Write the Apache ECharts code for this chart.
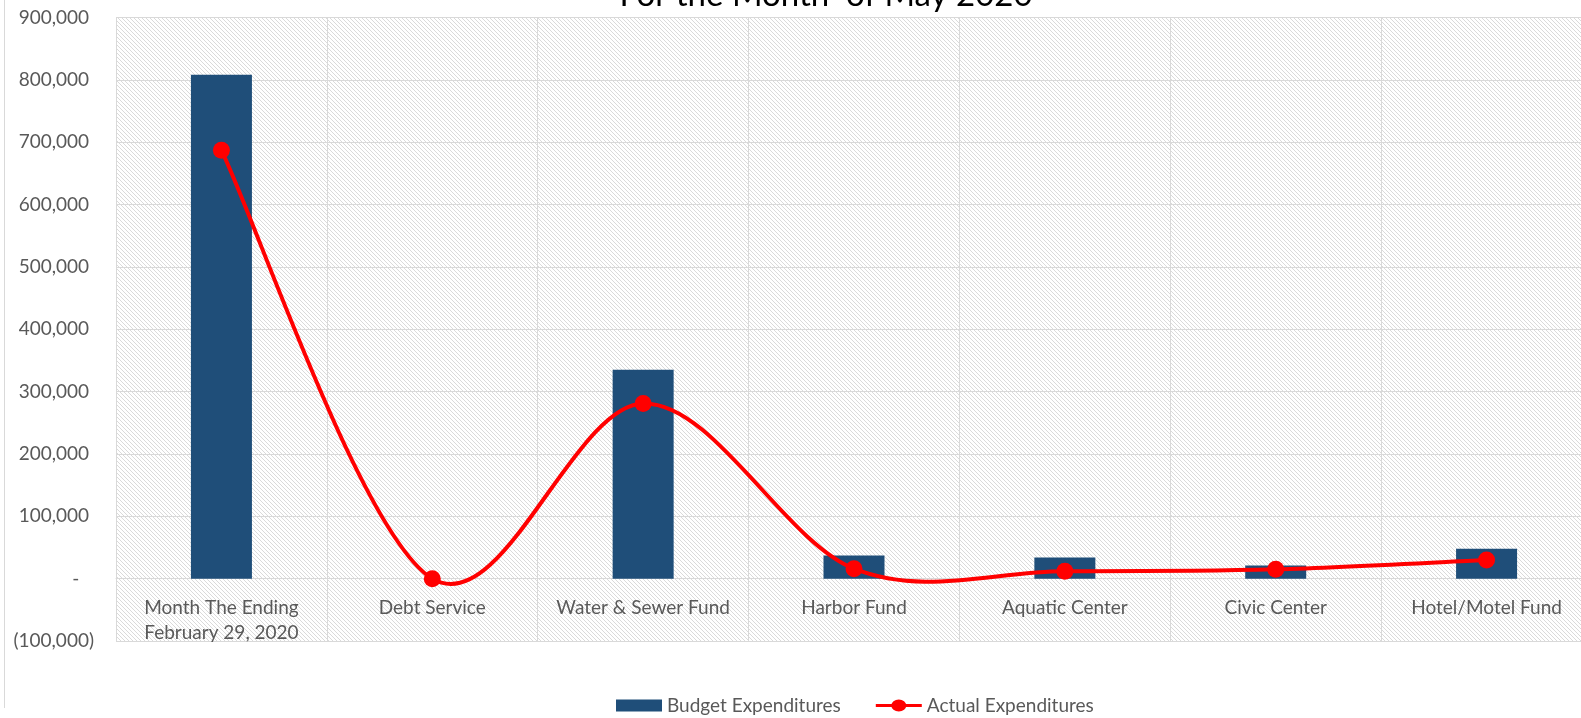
<!DOCTYPE html>
<html>
<head>
<meta charset="utf-8">
<script src="https://cdn.jsdelivr.net/npm/echarts@6/dist/echarts.min.js"></script>
<style>
  html, body { margin: 0; padding: 0; background: #ffffff; }
  #chart { width: 1581px; height: 718px; }
</style>
</head>
<body>
<div id="chart"></div>
<script>
// Fund categories and monthly figures
const categories = [
  'Month The Ending\nFebruary 29, 2020',
  'Debt Service',
  'Water & Sewer Fund',
  'Harbor Fund',
  'Aquatic Center',
  'Civic Center',
  'Hotel/Motel Fund'
];
const budgetExpenditures = [808000, 0, 335000, 37000, 34000, 21000, 48000];
const actualExpenditures = [687000, 0, 281000, 16000, 12000, 15000, 30000];
const titleText = 'For the Month  of May 2020';

const FONT = 'Lato, "Noto Sans", sans-serif';
const LABEL = '#595959';
const RED = '#ff0000';
const PLOT_H = 623.5;
const Y_MIN = -100000, Y_MAX = 900000;

// Light downward-diagonal hatch used as the plot background
function hatchPattern() {
  const c = document.createElement('canvas');
  c.width = 8; c.height = 8;
  const ctx = c.getContext('2d');
  ctx.fillStyle = '#ffffff';
  ctx.fillRect(0, 0, 8, 8);
  ctx.fillStyle = '#dadada';
  for (let y = 0; y < 8; y++) {
    for (let x = 0; x < 8; x++) {
      if (((x - y) % 4 + 4) % 4 === 0) ctx.fillRect(x, y, 1, 1);
    }
  }
  return c;
}

function yLabel(v) {
  if (v === 0) return '-   ';
  const s = Math.abs(v).toLocaleString('en-US');
  return v < 0 ? '(' + s + ')' : s + ' ';
}

// Smoothed curve through the actual values (Catmull-Rom style, 1/6 tangents),
// drawn once from the first data item using the grid's own coordinates.
function renderActualCurve(params, api) {
  if (params.dataIndex !== 0) return null;
  const pts = actualExpenditures.map((v, i) => api.coord([i, v]));
  const n = pts.length;
  const children = [];
  for (let i = 0; i < n - 1; i++) {
    const p0 = pts[Math.max(i - 1, 0)];
    const p1 = pts[i];
    const p2 = pts[i + 1];
    const p3 = pts[Math.min(i + 2, n - 1)];
    children.push({
      type: 'bezierCurve',
      shape: {
        x1: p1[0], y1: p1[1],
        cpx1: p1[0] + (p2[0] - p0[0]) / 6, cpy1: p1[1] + (p2[1] - p0[1]) / 6,
        cpx2: p2[0] - (p3[0] - p1[0]) / 6, cpy2: p2[1] - (p3[1] - p1[1]) / 6,
        x2: p2[0], y2: p2[1]
      },
      style: { stroke: RED, lineWidth: 4, fill: null, lineCap: 'round' }
    });
  }
  return { type: 'group', children: children };
}

// Category axis sits on the zero line, as in an accounting chart
const zeroOffset = -PLOT_H * (0 - Y_MIN) / (Y_MAX - Y_MIN);

// Legend glyph for the actual series: a line with a dot in the middle
const lineDotIcon = 'path://M0,4.5 H46 V7.5 H0 Z M15.5,6 a7.5,6 0 1,1 15,0 a7.5,6 0 1,1 -15,0 Z';

const chart = echarts.init(document.getElementById('chart'));
chart.setOption({
  animation: false,
  textStyle: { fontFamily: FONT },
  grid: {
    left: 116, top: 17.5, width: 1476, height: PLOT_H,
    outerBoundsMode: 'none',
    containLabel: false,
    show: true,
    borderWidth: 0,
    backgroundColor: { image: hatchPattern(), repeat: 'repeat' }
  },
  graphic: [
    {
      type: 'line', silent: true,
      shape: { x1: 4.5, y1: 0, x2: 4.5, y2: 708 },
      style: { stroke: '#d9d9d9', lineWidth: 1 }
    },
    {
      type: 'text', silent: true, x: 826, y: -5,
      style: {
        text: titleText, fill: '#000000', fontFamily: FONT, fontSize: 33,
        align: 'center', verticalAlign: 'middle'
      }
    }
  ],
  legend: {
    left: 611, top: 691,
    itemWidth: 46, itemHeight: 12, itemGap: 35,
    textStyle: { color: LABEL, fontSize: 19, fontFamily: FONT },
    data: [
      { name: 'Budget Expenditures', icon: 'rect' },
      { name: 'Actual Expenditures', icon: lineDotIcon, itemStyle: { color: RED } }
    ]
  },
  xAxis: {
    type: 'category',
    data: categories,
    offset: zeroOffset,
    axisLine: { onZero: false, lineStyle: { color: '#d9d9d9', width: 1 } },
    axisTick: { show: false },
    axisLabel: {
      color: LABEL, fontSize: 19, lineHeight: 25, margin: 17,
      interval: 0, fontFamily: FONT
    },
    splitLine: { show: true, interval: 0, lineStyle: { color: '#d9d9d9', width: 1 } }
  },
  yAxis: {
    type: 'value',
    min: Y_MIN, max: Y_MAX, interval: 100000,
    axisLine: { show: false },
    axisTick: { show: false },
    axisLabel: {
      color: LABEL, fontSize: 19, margin: 22, fontFamily: FONT,
      formatter: yLabel
    },
    splitLine: { lineStyle: { color: '#d9d9d9', width: 1 } }
  },
  series: [
    {
      name: 'Budget Expenditures',
      type: 'bar',
      data: budgetExpenditures,
      barWidth: 61,
      itemStyle: { color: '#1f4e79' }
    },
    {
      name: 'Actual Expenditures',
      type: 'scatter',
      data: actualExpenditures,
      symbol: 'circle',
      symbolSize: 17,
      itemStyle: { color: RED, opacity: 1 },
      z: 4
    },
    {
      name: 'Actual curve',
      type: 'custom',
      data: actualExpenditures.map((v, i) => [i, v]),
      renderItem: renderActualCurve,
      encode: { x: 0, y: 1 },
      silent: true,
      z: 3
    }
  ]
});
</script>
</body>
</html>
